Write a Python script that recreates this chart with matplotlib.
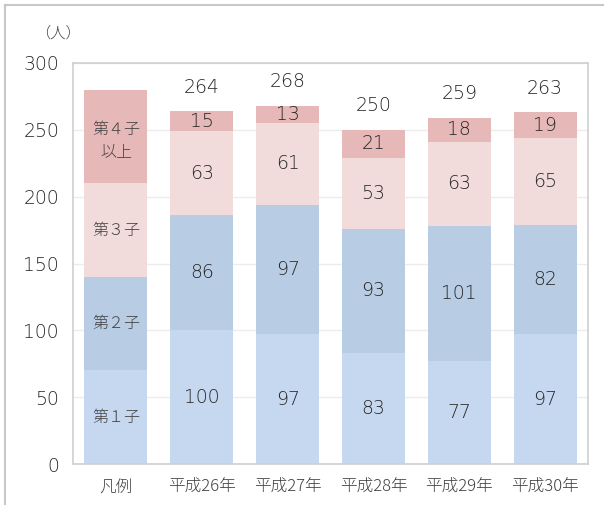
import matplotlib
matplotlib.use("Agg")
import matplotlib.pyplot as plt
from matplotlib.lines import Line2D
import numpy as np

plt.rcParams['font.family'] = ['Noto Sans CJK JP', 'DejaVu Sans']

categories = ["凡例", "平成26年", "平成27年", "平成28年", "平成29年", "平成30年"]
series_names = ["第１子", "第２子", "第３子", "第４子\n以上"]
first = [70, 100, 97, 83, 77, 97]
second = [70, 86, 97, 93, 101, 82]
third = [70, 63, 61, 53, 63, 65]
fourth = [70, 15, 13, 21, 18, 19]
totals = [None, 264, 268, 250, 259, 263]
yticks = [0, 50, 100, 150, 200, 250, 300]

colors = ["#c6d8f0", "#b8cce4", "#f2dbdb", "#e6b8b7"]
text_color = "#404040"
num_color = "#262626"
num_font = ['DejaVu Sans', 'Noto Sans CJK JP']

fig = plt.figure(figsize=(6.04, 5.05), dpi=100)
ax = fig.add_axes([73/604, 1 - 464/505, (588-73)/604, (464-63)/505])

x = np.arange(len(categories))
series = [first, second, third, fourth]
bottom = np.zeros(len(categories))
for i, (vals, col) in enumerate(zip(series, colors)):
    vals = np.array(vals, dtype=float)
    ax.bar(x, vals, bottom=bottom, width=0.735, color=col, edgecolor='none', zorder=2)
    for j, v in enumerate(vals):
        if j == 0:
            ax.text(x[j], bottom[j] + v / 2 - (3 if i == 3 else 0), series_names[i],
                    ha='center', va='center', fontsize=11.5, color=text_color,
                    fontweight='light', linespacing=1.35, zorder=3)
        else:
            ax.text(x[j], bottom[j] + v / 2, f"{int(v)}", ha='center', va='center',
                    fontsize=13.5, color=num_color, family=num_font, fontweight='light', zorder=3)
    bottom = bottom + vals

for j, t in enumerate(totals):
    if t is not None:
        ax.text(x[j], bottom[j] + 18, f"{t}", ha='center', va='center',
                fontsize=13.5, color=num_color, family=num_font, fontweight='light', zorder=3)

ax.set_xlim(-0.5, len(categories) - 0.5)
ax.set_ylim(0, 300)
ax.set_yticks(yticks)
ax.set_yticklabels([str(v) for v in yticks], fontsize=13.5, color=num_color,
                   family=num_font, fontweight='light')
ax.set_xticks(x)
ax.set_xticklabels(categories, fontsize=12, color=text_color, fontweight='light')
ax.tick_params(axis='both', length=0)
ax.tick_params(axis='y', pad=10)
ax.tick_params(axis='x', pad=11)
ax.yaxis.grid(True, color="#ececec", linewidth=1, zorder=0)
ax.set_axisbelow(True)
for s in ax.spines.values():
    s.set_color("#cfcfcf")
    s.set_linewidth(1.2)

fig.text(58/604, 1 - 33/505, "（人）", ha='center', va='center', fontsize=11,
         color=text_color, fontweight='light')

# outer frame lines (top and left)
fig.add_artist(Line2D([5/604, 1], [1 - 5/505, 1 - 5/505], transform=fig.transFigure, color="#c8c8c8", linewidth=1.5))
fig.add_artist(Line2D([5/604, 5/604], [1 - 5/505, 0], transform=fig.transFigure, color="#c8c8c8", linewidth=1.5))

fig.savefig("out.png", dpi=100)
